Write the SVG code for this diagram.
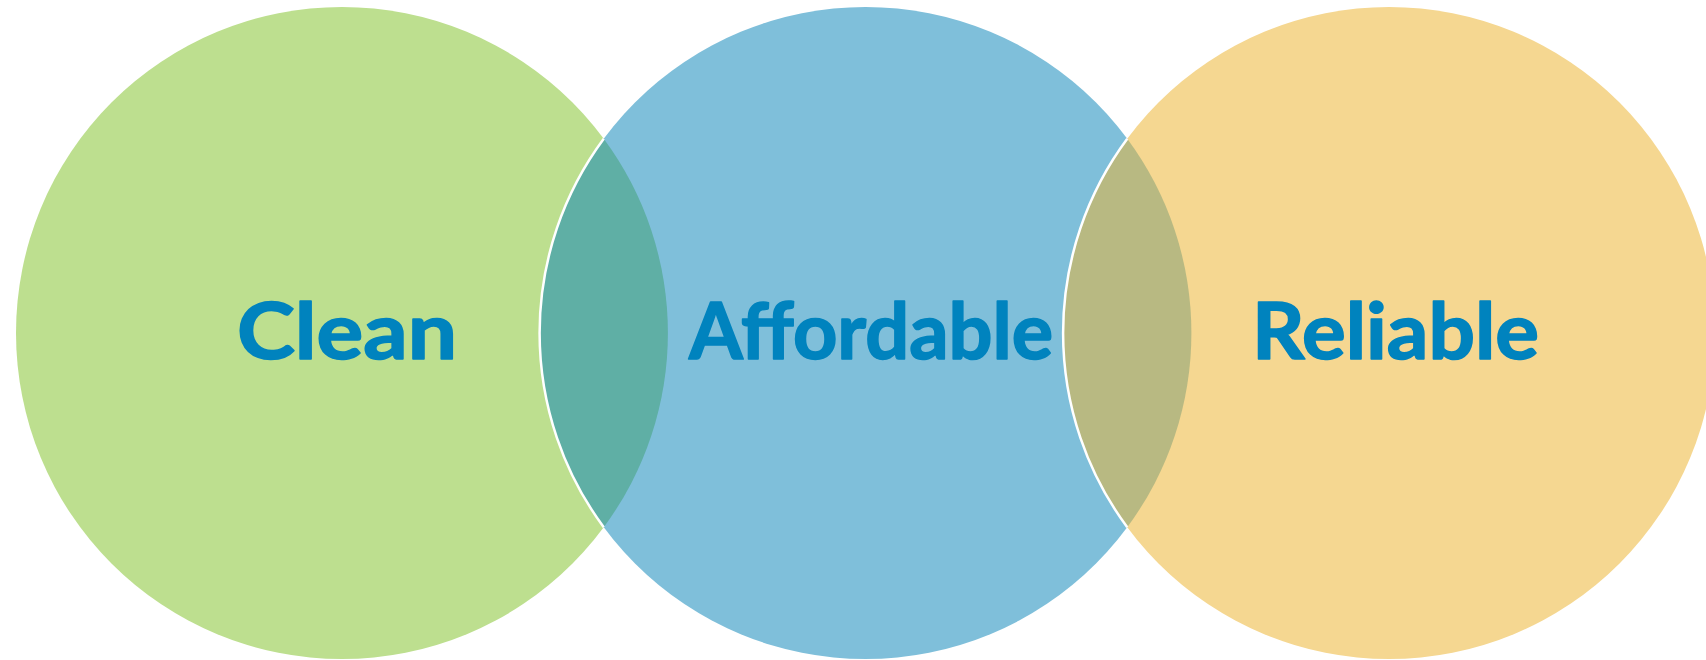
<svg xmlns="http://www.w3.org/2000/svg" width="1706" height="660" viewBox="0 0 1706 660">
  <style>
    .lbl { font-family: "Lato", "Liberation Sans", sans-serif; font-weight: 700; font-size: 78px; fill: #0083BE; stroke: #0083BE; stroke-width: 1.6; stroke-linejoin: round; }
    .sep { fill: none; stroke: #FFFFFF; stroke-width: 2.5; }
  </style>
  <rect width="1706" height="660" fill="#FFFFFF"/>
  <g id="clean">
    <circle cx="342" cy="333" r="326" fill="#BDDF8F"/>
  </g>
  <g id="affordable">
    <circle cx="865.5" cy="333" r="326" fill="#7FBFDA"/>
  </g>
  <g id="overlap-clean-affordable">
    <path d="M603.75 138.8 A326 326 0 0 1 603.75 527.2 A326 326 0 0 1 603.75 138.8 Z" fill="#5FAFA5"/>
    <path class="sep" d="M603.75 527.2 A326 326 0 0 1 603.75 138.8"/>
  </g>
  <g id="reliable">
    <circle cx="1389" cy="333" r="326" fill="#F5D791"/>
  </g>
  <g id="overlap-affordable-reliable">
    <path d="M1127.25 138.8 A326 326 0 0 1 1127.25 527.2 A326 326 0 0 1 1127.25 138.8 Z" fill="#B8B982"/>
    <path class="sep" d="M1127.25 527.2 A326 326 0 0 1 1127.25 138.8"/>
  </g>
  <g id="labels">
    <text class="lbl" x="237" y="359" textLength="220" lengthAdjust="spacingAndGlyphs">Clean</text>
    <text class="lbl" x="689" y="359" textLength="364" lengthAdjust="spacingAndGlyphs">Affordable</text>
    <text class="lbl" x="1252" y="359" textLength="287" lengthAdjust="spacingAndGlyphs">Reliable</text>
  </g>
</svg>
